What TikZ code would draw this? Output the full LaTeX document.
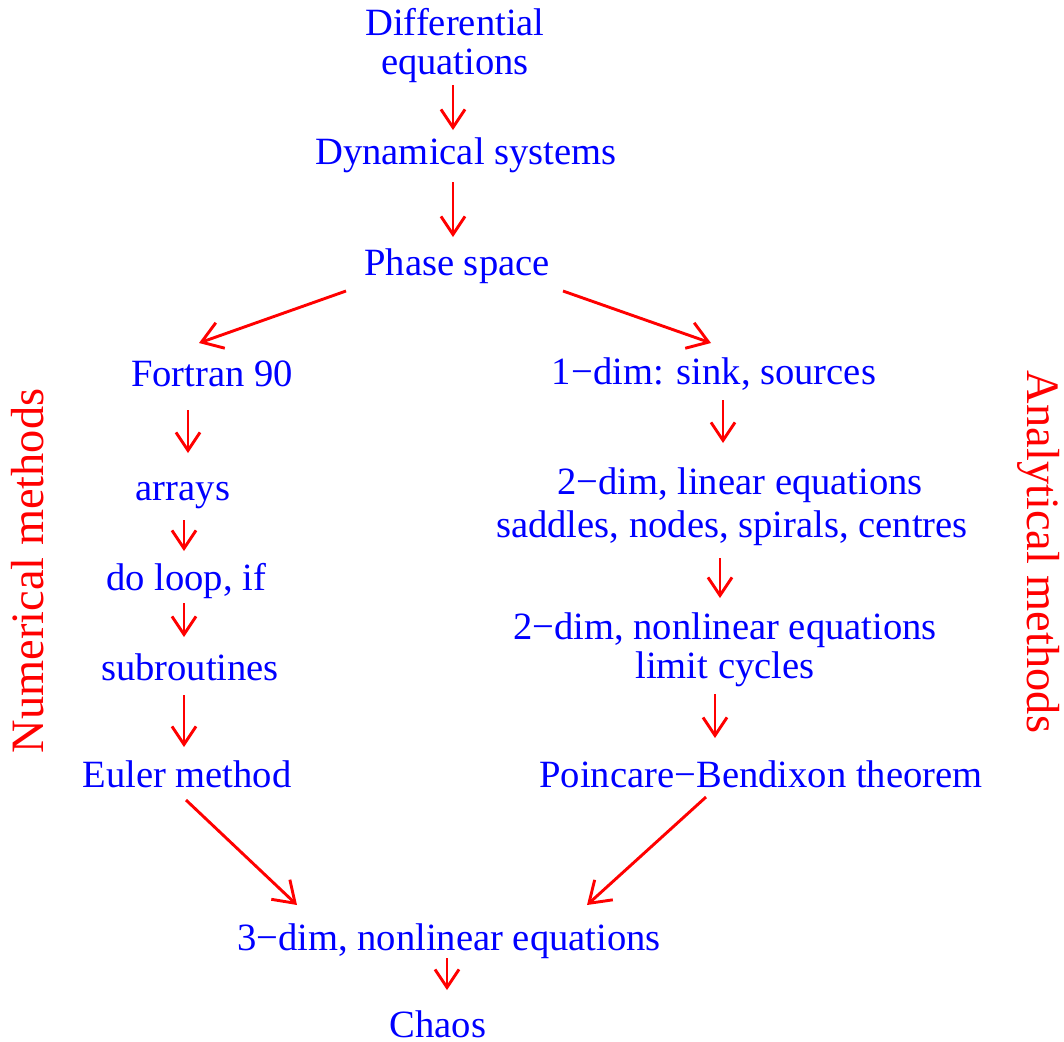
\documentclass[tikz,border=0pt]{standalone}
\usepackage{fontspec}
\setmainfont{Liberation Serif}
\usetikzlibrary{arrows.meta,calc}
\begin{document}
\begin{tikzpicture}[x=0.5pt,y=-0.5pt,
  txt/.style={text=blue,font=\fontsize{19.3pt}{19.5pt}\selectfont,inner sep=0pt,text height=13.5pt,text depth=4.2pt},
  mtxt/.style={text=blue,font=\fontsize{19.3pt}{19.5pt}\selectfont,inner sep=0pt,align=center},
  side/.style={text=red,font=\fontsize{23.2pt}{24pt}\selectfont,inner sep=0pt},
  arr/.style={draw=red,line width=1.45pt,-{Straight Barb[length=9pt,width=12pt,line width=1.45pt]}},
  darr/.style={arr,-{Straight Barb[length=10pt,width=13.5pt,line width=1.45pt]}}]
\useasboundingbox (0,0) rectangle (1064,1041);

\node[mtxt] (diff) at (455,46) {Differential\\equations};
\node[txt] (dyn) at (466,155) {Dynamical systems};
\node[txt] (phase) at (457,266) {Phase space};
\node[txt] (fortran) at (212,377) {Fortran 90};
\node[txt] (arrays) at (183,491) {arrays};
\node[txt] (doloop) at (186,581) {do loop, if};
\node[txt] (subr) at (190,671) {subroutines};
\node[txt] (euler) at (187,778) {Euler method};
\node[txt] (one) at (714,375) {1−dim: sink, sources};
\node[mtxt] (lin) at (732,506.5) {\hspace*{8pt}2−dim, linear equations\\[2pt]saddles, nodes, spirals, centres};
\node[mtxt] (nonlin) at (725,649.5) {2−dim, nonlinear equations\\limit cycles};
\node[txt] (poinc) at (761,778) {Poincare−Bendixon theorem};
\node[txt] (three) at (449,941) {3−dim, nonlinear equations};
\node[txt,text depth=0pt] (chaos) at (438,1023.5) {Chaos};
\node[side,rotate=90] (num) at (28,571) {Numerical methods};
\node[side,rotate=-90] (ana) at (1039,552) {Analytical methods};

\draw[arr] ($(diff)+(-2,39)$) -- ($(dyn)+(-13,-25)$);
\draw[arr] ($(dyn)+(-13,27)$) -- ($(phase)+(-4,-29)$);
\draw[darr] ($(phase)+(-111,25)$) -- ($(fortran)+(-13,-34)$);
\draw[darr] ($(phase)+(106,25)$) -- ($(one)+(-3,-32)$);
\draw[arr] ($(fortran)+(-24,33)$) -- ($(arrays)+(5,-38)$);
\draw[arr] ($(arrays)+(1,29)$) -- ($(doloop)+(-2,-30)$);
\draw[arr] ($(doloop)+(-2,22)$) -- ($(subr)+(-6,-34)$);
\draw[arr] ($(subr)+(-6,24)$) -- ($(euler)+(-3,-31)$);
\draw[arr] ($(one)+(9,25)$) -- ($(lin)+(-9,-63.5)$);
\draw[arr] ($(lin)+(-12,51.5)$) -- ($(nonlin)+(-5,-51.5)$);
\draw[arr] ($(nonlin)+(-10,44.5)$) -- ($(poinc)+(-46,-40)$);
\draw[darr] ($(euler)+(-1,22)$) -- ($(three)+(-152,-36)$);
\draw[darr] ($(poinc)+(-55,19)$) -- ($(three)+(138,-36)$);
\draw[arr] ($(three)+(-2,17)$) -- ($(chaos)+(9,-33.5)$);
\end{tikzpicture}
\end{document}
